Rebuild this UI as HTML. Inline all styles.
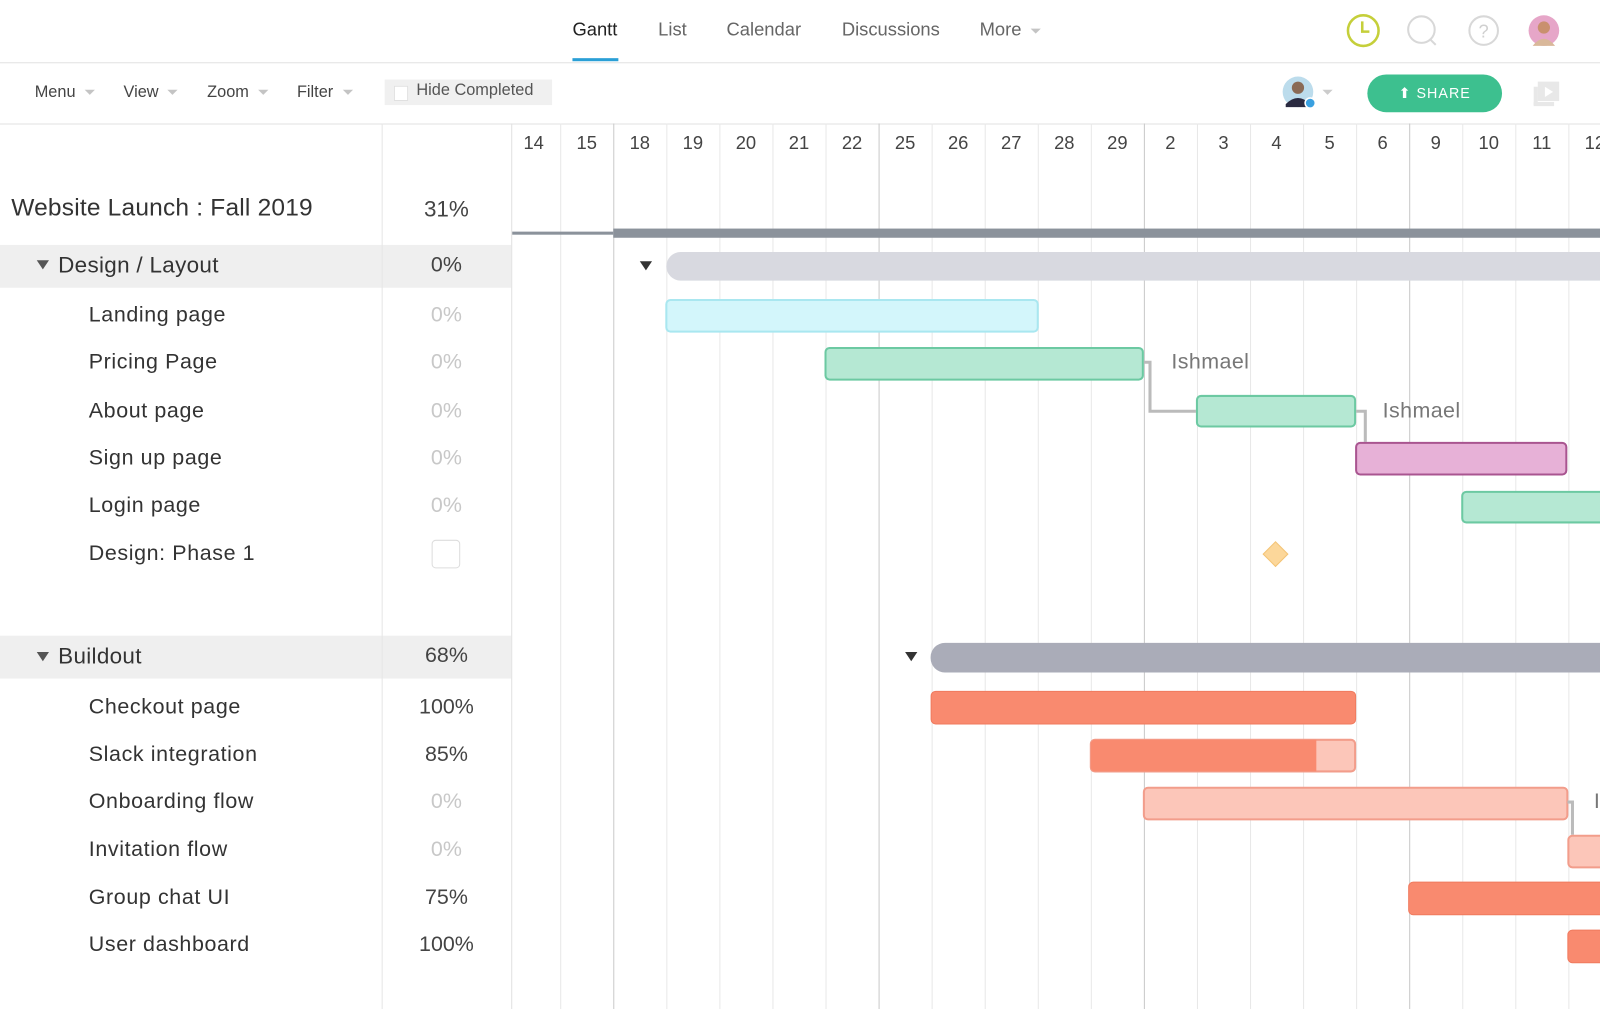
<!DOCTYPE html>
<html><head><meta charset="utf-8">
<style>
html,body{margin:0;padding:0;width:1600px;height:1009px;overflow:hidden;background:#fff;font-family:"Liberation Sans",sans-serif;}
#w{position:absolute;left:0;top:0;width:1568px;height:989px;transform:scale(1.020408);transform-origin:0 0;overflow:hidden;}
.a{position:absolute;}
.t{position:absolute;white-space:nowrap;}
.car{display:inline-block;width:0;height:0;border-left:5px solid transparent;border-right:5px solid transparent;border-top:5px solid #c4c4c4;margin-left:9px;vertical-align:middle;}
.bar{position:absolute;border-radius:5px;box-sizing:border-box;}
.g{background:#b5e8d3;border:2px solid #6cc9a2;}
.o{background:#f98a6f;border:1px solid #f07a5e;}
.lo{background:#fcc6b9;border:2px solid #f29d8b;}
.row{position:absolute;left:87px;font-size:21px;color:#333;transform:translateY(-50%);letter-spacing:0.6px;white-space:nowrap;}
.pc{position:absolute;width:127px;left:374px;text-align:center;font-size:21px;transform:translateY(-50%);color:#444;}
.lt{color:#c8c8c8;}
.day{position:absolute;top:130px;width:52px;text-align:center;font-size:18px;color:#444;}
.vl{position:absolute;top:121px;bottom:0;width:1px;background:#e8e8e8;}
.wl{background:#c9c9c9;}
</style></head><body><div id="w">
<div class="a" style="left:0;right:0;top:61px;height:1px;background:#e2e2e2"></div>
<div class="t" style="left:561px;top:19px;font-size:18px;color:#222">Gantt</div>
<div class="a" style="left:561px;top:57px;width:45px;height:3px;background:#2a9fd6"></div>
<div class="t" style="left:645px;top:19px;font-size:18px;color:#666">List</div>
<div class="t" style="left:712px;top:19px;font-size:18px;color:#666">Calendar</div>
<div class="t" style="left:825px;top:19px;font-size:18px;color:#666">Discussions</div>
<div class="t" style="left:960px;top:19px;font-size:18px;color:#666">More<span class="car"></span></div>
<svg class="a" style="left:1318px;top:12px" width="220" height="36">
<circle cx="18" cy="18" r="15" fill="none" stroke="#c5cf3a" stroke-width="2.5"/><path d="M17 9v10h7" fill="none" stroke="#c5cf3a" stroke-width="2.5"/>
<circle cx="75" cy="17" r="13" fill="none" stroke="#d8d8d8" stroke-width="2"/><path d="M84 27l5 5" stroke="#d8d8d8" stroke-width="2"/>
<circle cx="136" cy="18" r="14" fill="none" stroke="#d8d8d8" stroke-width="2"/><text x="136" y="25" font-size="18" fill="#d0d0d0" text-anchor="middle" font-family="Liberation Sans">?</text>
<circle cx="195" cy="18" r="15" fill="#e6a6c8"/><circle cx="195" cy="15" r="6" fill="#c9906e"/><path d="M184 33q11-14 22 0z" fill="#d9b89a"/>
</svg>
<div class="a" style="left:0;right:0;top:121px;height:1px;background:#e2e2e2"></div>
<div class="t" style="left:34px;top:82px;font-size:16px;color:#444">Menu<span class="car"></span></div>
<div class="t" style="left:121px;top:82px;font-size:16px;color:#444">View<span class="car"></span></div>
<div class="t" style="left:203px;top:82px;font-size:16px;color:#444">Zoom<span class="car"></span></div>
<div class="t" style="left:291px;top:82px;font-size:16px;color:#444">Filter<span class="car"></span></div>
<div class="a" style="left:377px;top:78px;width:164px;height:25px;background:#f0f0f0"></div>
<div class="a" style="left:386px;top:84px;width:12px;height:13px;background:#fff;border:1px solid #e0e0e0"></div>
<div class="t" style="left:408px;top:80px;font-size:16px;color:#555">Hide Completed</div>
<svg class="a" style="left:1256px;top:74px" width="60" height="34"><circle cx="16" cy="16" r="15" fill="#bcdcec"/><circle cx="16" cy="12" r="6" fill="#8a6a55"/><path d="M4 28q12-12 24 0v3H4z" fill="#2a2a40"/><circle cx="28" cy="27" r="5" fill="#3aa0e0" stroke="#fff" stroke-width="1.5"/><path d="M40 14h10l-5 5z" fill="#ccc"/></svg>
<div class="a" style="left:1340px;top:73px;width:132px;height:37px;border-radius:19px;background:#3dc08f;color:#fff;font-size:14px;letter-spacing:1px;text-align:center;line-height:37px">&#x2B06;&#xFE0E; SHARE</div>
<svg class="a" style="left:1502px;top:78px" width="28" height="28"><rect x="5" y="2" width="21" height="19" fill="#e8e8e8"/><rect x="1" y="7" width="4" height="18" fill="#e8e8e8"/><rect x="1" y="22" width="20" height="4" fill="#e8e8e8"/><path d="M12 7l8 5-8 5z" fill="#fff"/></svg>
<div class="a" style="left:0;top:240px;width:501px;height:42px;background:#efefef"></div>
<div class="a" style="left:0;top:623px;width:501px;height:42px;background:#efefef"></div>
<div class="a" style="left:374px;top:121px;bottom:0;width:1px;background:#e6e6e6"></div>
<div class="a" style="left:501px;top:121px;bottom:0;width:1px;background:#e0e0e0"></div>
<div class="t" style="left:11px;top:204px;transform:translateY(-50%);font-size:24px;color:#333;letter-spacing:0.2px">Website Launch : Fall 2019</div>
<div class="pc" style="top:205px;font-size:22px">31%</div>
<div class="t" style="left:36px;top:255px;border-left:6px solid transparent;border-right:6px solid transparent;border-top:9px solid #555"></div>
<div class="row" style="left:57px;top:260px;font-size:22px;letter-spacing:0.3px">Design / Layout</div><div class="pc" style="top:260px">0%</div>
<div class="row" style="top:309px">Landing page</div><div class="pc lt" style="top:309px">0%</div>
<div class="row" style="top:355px">Pricing Page</div><div class="pc lt" style="top:355px">0%</div>
<div class="row" style="top:403px">About page</div><div class="pc lt" style="top:403px">0%</div>
<div class="row" style="top:449px">Sign up page</div><div class="pc lt" style="top:449px">0%</div>
<div class="row" style="top:496px">Login page</div><div class="pc lt" style="top:496px">0%</div>
<div class="row" style="top:543px">Design: Phase 1</div>
<div class="a" style="left:423px;top:529px;width:28px;height:28px;border:1px solid #ddd;border-radius:4px;box-sizing:border-box"></div>
<div class="t" style="left:36px;top:639px;border-left:6px solid transparent;border-right:6px solid transparent;border-top:9px solid #555"></div>
<div class="row" style="left:57px;top:643px;font-size:22px;letter-spacing:0.3px">Buildout</div><div class="pc" style="top:643px">68%</div>
<div class="row" style="top:693px">Checkout page</div><div class="pc" style="top:693px">100%</div>
<div class="row" style="top:740px">Slack integration</div><div class="pc" style="top:740px">85%</div>
<div class="row" style="top:786px">Onboarding flow</div><div class="pc lt" style="top:786px">0%</div>
<div class="row" style="top:833px">Invitation flow</div><div class="pc lt" style="top:833px">0%</div>
<div class="row" style="top:880px">Group chat UI</div><div class="pc" style="top:880px">75%</div>
<div class="row" style="top:926px">User dashboard</div><div class="pc" style="top:926px">100%</div>
<div class="vl" style="left:549px"></div><div class="vl wl" style="left:601px"></div><div class="vl" style="left:653px"></div><div class="vl" style="left:705px"></div><div class="vl" style="left:757px"></div><div class="vl" style="left:809px"></div><div class="vl wl" style="left:861px"></div><div class="vl" style="left:913px"></div><div class="vl" style="left:965px"></div><div class="vl" style="left:1017px"></div><div class="vl" style="left:1069px"></div><div class="vl wl" style="left:1121px"></div><div class="vl" style="left:1173px"></div><div class="vl" style="left:1225px"></div><div class="vl" style="left:1277px"></div><div class="vl" style="left:1329px"></div><div class="vl wl" style="left:1381px"></div><div class="vl" style="left:1433px"></div><div class="vl" style="left:1485px"></div><div class="vl" style="left:1537px"></div>
<div class="day" style="left:497px">14</div><div class="day" style="left:549px">15</div><div class="day" style="left:601px">18</div><div class="day" style="left:653px">19</div><div class="day" style="left:705px">20</div><div class="day" style="left:757px">21</div><div class="day" style="left:809px">22</div><div class="day" style="left:861px">25</div><div class="day" style="left:913px">26</div><div class="day" style="left:965px">27</div><div class="day" style="left:1017px">28</div><div class="day" style="left:1069px">29</div><div class="day" style="left:1121px">2</div><div class="day" style="left:1173px">3</div><div class="day" style="left:1225px">4</div><div class="day" style="left:1277px">5</div><div class="day" style="left:1329px">6</div><div class="day" style="left:1381px">9</div><div class="day" style="left:1433px">10</div><div class="day" style="left:1485px">11</div><div class="day" style="left:1537px">12</div>
<div class="a" style="left:502px;top:227px;width:99px;height:3px;background:#8b929b"></div>
<div class="a" style="left:601px;top:224px;width:980px;height:9px;background:#8b929b"></div>
<div class="t" style="left:627px;top:256px;border-left:6px solid transparent;border-right:6px solid transparent;border-top:9px solid #333"></div>
<div class="bar" style="left:653px;top:247px;width:940px;height:28px;border-radius:14px;background:#d8d9e0"></div>
<div class="bar" style="left:652px;top:293px;width:366px;height:33px;background:#d3f6fb;border:2px solid #a9e7f0"></div>
<div class="bar g" style="left:808px;top:340px;width:313px;height:33px"></div>
<div class="t" style="left:1148px;top:343px;font-size:21px;color:#777;letter-spacing:0.4px">Ishmael</div>
<svg class="a" style="left:1120px;top:350px" width="230" height="90"><path d="M1 5h6v48h45" fill="none" stroke="#bbb" stroke-width="3"/><path d="M209 53h9v30" fill="none" stroke="#bbb" stroke-width="3"/></svg>
<div class="bar g" style="left:1172px;top:387px;width:157px;height:32px"></div>
<div class="t" style="left:1355px;top:391px;font-size:21px;color:#777;letter-spacing:0.4px">Ishmael</div>
<div class="bar" style="left:1328px;top:433px;width:208px;height:33px;background:#e7b1d7;border:2px solid #a95590"></div>
<div class="bar g" style="left:1432px;top:481px;width:160px;height:32px"></div>
<div class="a" style="left:1241px;top:534px;width:16px;height:16px;transform:rotate(45deg);background:#fcd79a;border:1px solid #f3c477"></div>
<div class="t" style="left:887px;top:639px;border-left:6px solid transparent;border-right:6px solid transparent;border-top:9px solid #333"></div>
<div class="bar" style="left:912px;top:630px;width:680px;height:29px;border-radius:14px;background:#aaacb8"></div>
<div class="bar o" style="left:912px;top:677px;width:417px;height:33px"></div>
<div class="bar lo" style="left:1068px;top:724px;width:261px;height:33px"></div>
<div class="a" style="left:1069px;top:725px;width:221px;height:31px;background:#f98a6f;border-radius:4px 0 0 4px"></div>
<div class="bar lo" style="left:1120px;top:771px;width:417px;height:33px"></div>
<svg class="a" style="left:1536px;top:780px" width="30" height="40"><path d="M0 6h5v32" fill="none" stroke="#bbb" stroke-width="3"/></svg>
<div class="t" style="left:1562px;top:774px;font-size:21px;color:#777">I</div>
<div class="bar lo" style="left:1536px;top:818px;width:60px;height:33px"></div>
<div class="bar o" style="left:1380px;top:864px;width:210px;height:33px"></div>
<div class="bar o" style="left:1536px;top:911px;width:60px;height:33px"></div>
</div></body></html>
